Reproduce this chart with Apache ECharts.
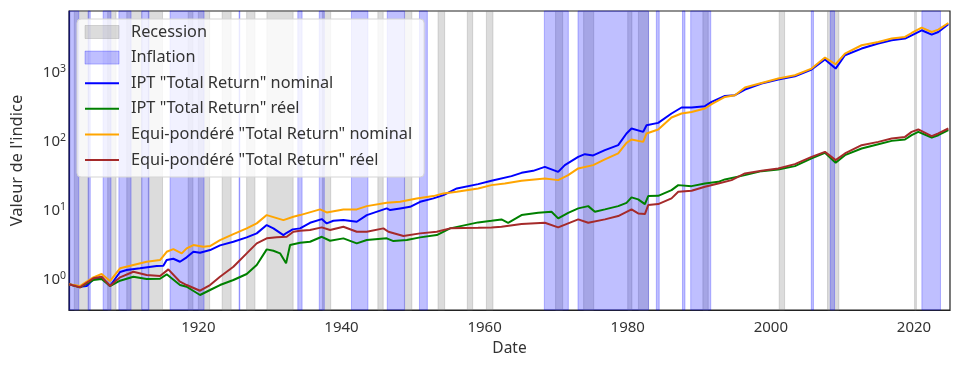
<!DOCTYPE html>
<html>
<head>
<meta charset="utf-8">
<script src="https://cdn.jsdelivr.net/npm/echarts@6/dist/echarts.min.js"></script>
<style>
html,body{margin:0;padding:0;background:#fff;}
#chart{width:958px;height:369px;}
</style>
</head>
<body>
<div id="chart"></div>
<script>
// ---- Data ----
const xTickLabels = [1920, 1940, 1960, 1980, 2000, 2020];
const yTickValues = [1, 10, 100, 1000];

// NBER recessions: [peak month, trough month]
const recessions = [
  ['1902-09','1904-08'],['1907-05','1908-06'],['1910-01','1912-01'],['1913-01','1914-12'],
  ['1918-08','1919-03'],['1920-01','1921-07'],['1923-05','1924-07'],['1926-10','1927-11'],
  ['1929-08','1933-03'],['1937-05','1938-06'],['1945-02','1945-10'],['1948-11','1949-10'],
  ['1953-07','1954-05'],['1957-08','1958-04'],['1960-04','1961-02'],['1969-12','1970-11'],
  ['1973-11','1975-03'],['1980-01','1980-07'],['1981-07','1982-11'],['1990-07','1991-03'],
  ['2001-03','2001-11'],['2007-12','2009-06'],['2020-02','2020-04']
];

// Inflation periods (decimal years)
const inflation = [
  [1901.93,1903.3],[1904.6,1904.9],[1906.7,1907.8],[1908.9,1910.6],[1912.1,1913.1],
  [1916.05,1920.8],[1925.7,1925.8],[1933.9,1934.5],[1936.9,1937.6],[1941.4,1943.7],
  [1946.4,1948.8],[1950.9,1952.0],[1968.35,1971.7],[1973.05,1982.9],[1984.0,1984.4],
  [1987.65,1988.0],[1988.8,1991.6],[2005.65,2005.95],[2008.3,2008.9],[2021.1,2023.7]
];

const iptNominal = [
[1901.93,0.858],[1903.46,0.792],[1904.40,0.811],[1905.33,1.013],[1906.49,1.083],[1907.66,0.811],[1909.06,1.292],[1909.99,1.381],[1911.85,1.461],[1914.18,1.578],[1915.11,1.594],[1915.58,1.926],[1916.51,2.012],[1917.44,1.820],[1918.37,2.107],[1919.31,2.539],[1920.24,2.455],[1921.64,2.687],[1923.03,3.142],[1924.90,3.541],[1926.76,4.100],[1928.16,4.683],[1929.56,6.172],[1930.49,5.532],[1931.89,4.426],[1932.35,4.777],[1933.19,5.350],[1934.22,5.532],[1935.61,6.664],[1937.25,7.538],[1937.94,6.531],[1938.87,7.121],[1940.27,7.29],[1942.14,6.89],[1943.54,8.61],[1946.33,10.76],[1946.80,10.17],[1948.19,10.76],[1949.59,11.34],[1950.99,13.40],[1952.85,15.01],[1954.25,16.75],[1956.12,20.94],[1959.10,24.15],[1960.96,26.96],[1963.76,31.52],[1965.16,35.17],[1966.79,37.59],[1968.42,42.96],[1970.28,36.37],[1971.21,45.46],[1973.08,59.92],[1974.01,65.54],[1975.17,62.76],[1976.81,74.85],[1978.67,88.42],[1979.83,130.5],[1980.53,154.1],[1982.16,137.6],[1982.63,172.0],[1984.26,185.7],[1986.12,253.8],[1987.52,309.9],[1988.92,309.9],[1990.78,323.6],[1991.72,373.6],[1993.58,456.0],[1994.98,466.9],[1996.38,564.1],[1998.70,688.9],[2001.03,787.0],[2003.36,878.6],[2005.69,1098],[2007.56,1531],[2009.05,1134],[2010.35,1766],[2012.68,2207],[2015.01,2608],[2016.88,2910],[2018.74,3079],[2019.67,3437],[2021.07,4059],[2022.47,3518],[2023.40,3835],[2024.80,4957]
];

const iptReal = [
[1901.93,0.858],[1903.46,0.777],[1905.33,0.990],[1906.49,1.024],[1907.66,0.811],[1909.06,0.967],[1910.92,1.105],[1912.78,1.024],[1914.65,1.034],[1915.58,1.197],[1917.44,0.838],[1918.37,0.792],[1920.24,0.601],[1921.64,0.710],[1923.03,0.838],[1924.90,0.990],[1926.76,1.209],[1928.16,1.631],[1929.56,2.750],[1930.49,2.625],[1931.42,2.407],[1932.26,1.726],[1932.82,3.172],[1934.22,3.425],[1935.61,3.541],[1937.25,4.181],[1938.41,3.661],[1940.27,3.966],[1942.14,3.357],[1943.54,3.747],[1946.33,3.966],[1947.26,3.624],[1949.13,3.747],[1950.99,4.100],[1953.32,4.426],[1955.18,5.532],[1959.10,6.753],[1960.96,7.121],[1962.36,7.461],[1963.29,6.664],[1965.16,8.61],[1967.49,9.295],[1969.35,9.610],[1970.28,7.714],[1971.68,9.295],[1973.08,10.76],[1974.48,11.61],[1975.41,9.610],[1976.81,10.41],[1978.67,11.61],[1979.83,12.96],[1980.53,15.52],[1981.46,14.52],[1982.40,12.41],[1982.86,16.20],[1984.26,16.36],[1986.12,19.78],[1987.06,23.36],[1988.92,22.59],[1990.78,24.73],[1992.65,26.08],[1993.58,28.24],[1996.38,32.59],[1998.70,37.22],[2001.03,39.38],[2003.36,43.97],[2005.69,56.80],[2007.56,68.44],[2009.05,49.08],[2010.35,63.39],[2012.68,79.20],[2015.01,91.41],[2016.88,102.0],[2018.74,106.9],[2019.67,123.3],[2020.60,137.6],[2022.47,114.2],[2023.40,123.3],[2024.80,145.7]
];

const ewNominal = [
[1901.93,0.858],[1903.46,0.811],[1905.33,1.083],[1906.49,1.209],[1907.66,0.958],[1909.06,1.461],[1910.92,1.631],[1912.78,1.820],[1914.65,1.926],[1915.58,2.539],[1916.51,2.777],[1917.68,2.407],[1918.37,2.843],[1919.31,3.172],[1920.70,2.999],[1921.64,3.069],[1923.03,3.747],[1924.90,4.575],[1926.76,5.532],[1928.16,6.531],[1929.56,8.61],[1931.89,7.29],[1933.28,8.137],[1934.22,8.61],[1937.01,10.41],[1937.94,9.42],[1940.27,10.41],[1942.14,10.41],[1943.54,11.61],[1946.33,12.96],[1948.19,13.40],[1950.52,15.01],[1952.85,16.20],[1954.25,17.73],[1956.12,18.70],[1959.10,20.94],[1960.96,23.36],[1962.83,24.73],[1965.16,26.96],[1968.42,29.19],[1970.28,27.59],[1971.68,32.59],[1973.08,40.72],[1975.17,45.46],[1976.81,54.95],[1978.67,67.09],[1979.83,95.45],[1980.53,106.9],[1982.16,98.68],[1982.63,130.5],[1984.26,149.1],[1986.12,222.3],[1987.52,253.8],[1988.92,267.7],[1990.78,299.9],[1991.72,345.9],[1993.58,441.0],[1994.98,466.9],[1996.38,603.1],[1998.70,702.8],[2001.03,813.5],[2003.36,907.9],[2005.69,1134],[2007.56,1637],[2009.05,1310],[2010.35,1869],[2012.68,2464],[2015.01,2750],[2016.88,3079],[2018.74,3248],[2019.67,3710],[2021.07,4441],[2022.47,3835],[2023.40,4154],[2024.80,5175]
];

const ewReal = [
[1901.93,0.858],[1903.46,0.777],[1905.33,1.048],[1906.49,1.105],[1907.66,0.811],[1909.06,1.083],[1910.92,1.305],[1912.78,1.169],[1914.65,1.131],[1915.81,1.413],[1917.44,0.936],[1918.37,0.838],[1920.24,0.693],[1921.64,0.838],[1923.03,1.105],[1924.90,1.541],[1926.76,2.407],[1928.16,3.357],[1929.56,3.966],[1930.95,4.100],[1932.35,4.181],[1933.28,4.939],[1934.22,5.106],[1935.61,5.227],[1937.25,5.717],[1938.41,5.227],[1940.27,5.833],[1942.14,4.939],[1943.54,4.939],[1945.86,5.532],[1946.56,4.939],[1948.66,4.280],[1950.99,4.683],[1953.32,4.939],[1955.18,5.532],[1959.10,5.641],[1960.96,5.717],[1962.36,5.833],[1965.16,6.381],[1968.42,6.664],[1970.28,5.717],[1971.68,6.531],[1973.08,7.461],[1974.48,6.664],[1976.81,7.461],[1978.67,8.328],[1980.53,10.41],[1981.46,9.111],[1982.40,8.899],[1982.86,12.01],[1984.26,12.41],[1986.12,15.01],[1987.06,18.70],[1988.92,19.32],[1990.78,22.07],[1992.65,24.73],[1994.51,27.59],[1996.38,34.48],[1998.70,37.59],[2001.03,40.72],[2003.36,46.99],[2005.69,59.92],[2007.56,70.75],[2009.05,53.68],[2010.35,67.09],[2012.68,88.42],[2015.01,98.68],[2016.88,110.5],[2018.74,116.5],[2019.67,137.6],[2020.60,149.1],[2022.47,119.3],[2023.40,130.5],[2024.80,154.1]
];

// ---- Chart ----
const FONT = 'Noto Sans';
const TXT = '#333333';
const monthStart = s => { const p = s.split('-').map(Number); return p[0] + (p[1] - 1) / 12; };
const monthEnd = s => { const p = s.split('-').map(Number); return p[0] + p[1] / 12; };

const REC_COLOR = 'rgba(128,128,128,0.28)';
const INF_COLOR = 'rgba(0,0,255,0.25)';

const chart = echarts.init(document.getElementById('chart'), null, {renderer: 'canvas'});

const lineSeries = (name, data, color) => ({
  name, type: 'line', data, symbol: 'none', showSymbol: false,
  lineStyle: {color, width: 2}, itemStyle: {color},
  animation: false, z: 3
});
const lineLegend = name => ({name, itemStyle: {opacity: 0}, lineStyle: {width: 2}});

chart.setOption({
  animation: false,
  backgroundColor: '#fff',
  textStyle: {fontFamily: FONT},
  grid: {left: 69, right: 8, top: 11, bottom: 59, show: true, borderColor: '#222', borderWidth: 1.2, backgroundColor: '#fff', outerBoundsMode: 'none'},
  xAxis: {
    type: 'value', min: 1901.93, max: 2025.03,
    name: 'Date', nameLocation: 'middle', nameGap: 31,
    nameTextStyle: {fontSize: 15.5, color: TXT, fontFamily: FONT},
    axisLine: {show: true, lineStyle: {color: '#222', width: 1.2}},
    axisTick: {show: false},
    splitLine: {show: false},
    axisLabel: {customValues: xTickLabels, margin: 10, fontSize: 15, color: TXT, fontFamily: FONT, formatter: v => String(v)}
  },
  yAxis: {
    type: 'log', logBase: 10, min: 0.3648, max: 7716,
    name: "Valeur de l'indice", nameLocation: 'middle', nameGap: 43,
    nameTextStyle: {fontSize: 16.5, color: TXT, fontFamily: FONT},
    axisLine: {show: true, lineStyle: {color: '#222', width: 1.2}},
    axisTick: {show: false},
    splitLine: {show: false},
    axisLabel: {
      customValues: yTickValues, margin: 3,
      formatter: v => '{b|10}{s|' + Math.round(Math.log10(v)) + '}',
      rich: {
        b: {fontSize: 15, color: TXT, fontFamily: FONT, lineHeight: 18},
        s: {fontSize: 10.5, color: TXT, fontFamily: FONT, verticalAlign: 'top', lineHeight: 11}
      }
    }
  },
  legend: {
    orient: 'vertical', left: 77, top: 19,
    padding: [5, 12, 9, 7], itemGap: 9.6, itemWidth: 34, itemHeight: 13,
    backgroundColor: 'rgba(255,255,255,0.8)', borderColor: '#d5d5d5', borderWidth: 1, borderRadius: 4,
    textStyle: {fontSize: 16.3, color: TXT, fontFamily: FONT, padding: [0, 0, 0, 7]},
    data: [
      {name: 'Recession', icon: 'rect', itemStyle: {color: REC_COLOR, borderColor: REC_COLOR, borderWidth: 1}},
      {name: 'Inflation', icon: 'rect', itemStyle: {color: INF_COLOR, borderColor: INF_COLOR, borderWidth: 1}},
      lineLegend('IPT "Total Return" nominal'),
      lineLegend('IPT "Total Return" réel'),
      lineLegend('Equi-pondéré "Total Return" nominal'),
      lineLegend('Equi-pondéré "Total Return" réel')
    ]
  },
  series: [
    {
      name: 'Recession', type: 'line', data: [], symbol: 'none',
      itemStyle: {color: REC_COLOR}, lineStyle: {width: 0},
      markArea: {
        silent: true,
        itemStyle: {color: REC_COLOR, borderColor: REC_COLOR, borderWidth: 1},
        data: recessions.map(r => [{xAxis: monthStart(r[0])}, {xAxis: monthEnd(r[1])}])
      }, z: 1
    },
    {
      name: 'Inflation', type: 'line', data: [], symbol: 'none',
      itemStyle: {color: INF_COLOR}, lineStyle: {width: 0},
      markArea: {
        silent: true,
        itemStyle: {color: INF_COLOR, borderColor: INF_COLOR, borderWidth: 1},
        data: inflation.map(r => [{xAxis: r[0]}, {xAxis: r[1]}])
      }, z: 1
    },
    lineSeries('IPT "Total Return" nominal', iptNominal, '#0000ff'),
    lineSeries('IPT "Total Return" réel', iptReal, '#008000'),
    lineSeries('Equi-pondéré "Total Return" nominal', ewNominal, '#ffa500'),
    lineSeries('Equi-pondéré "Total Return" réel', ewReal, '#a52a2a')
  ]
});
</script>
</body>
</html>
